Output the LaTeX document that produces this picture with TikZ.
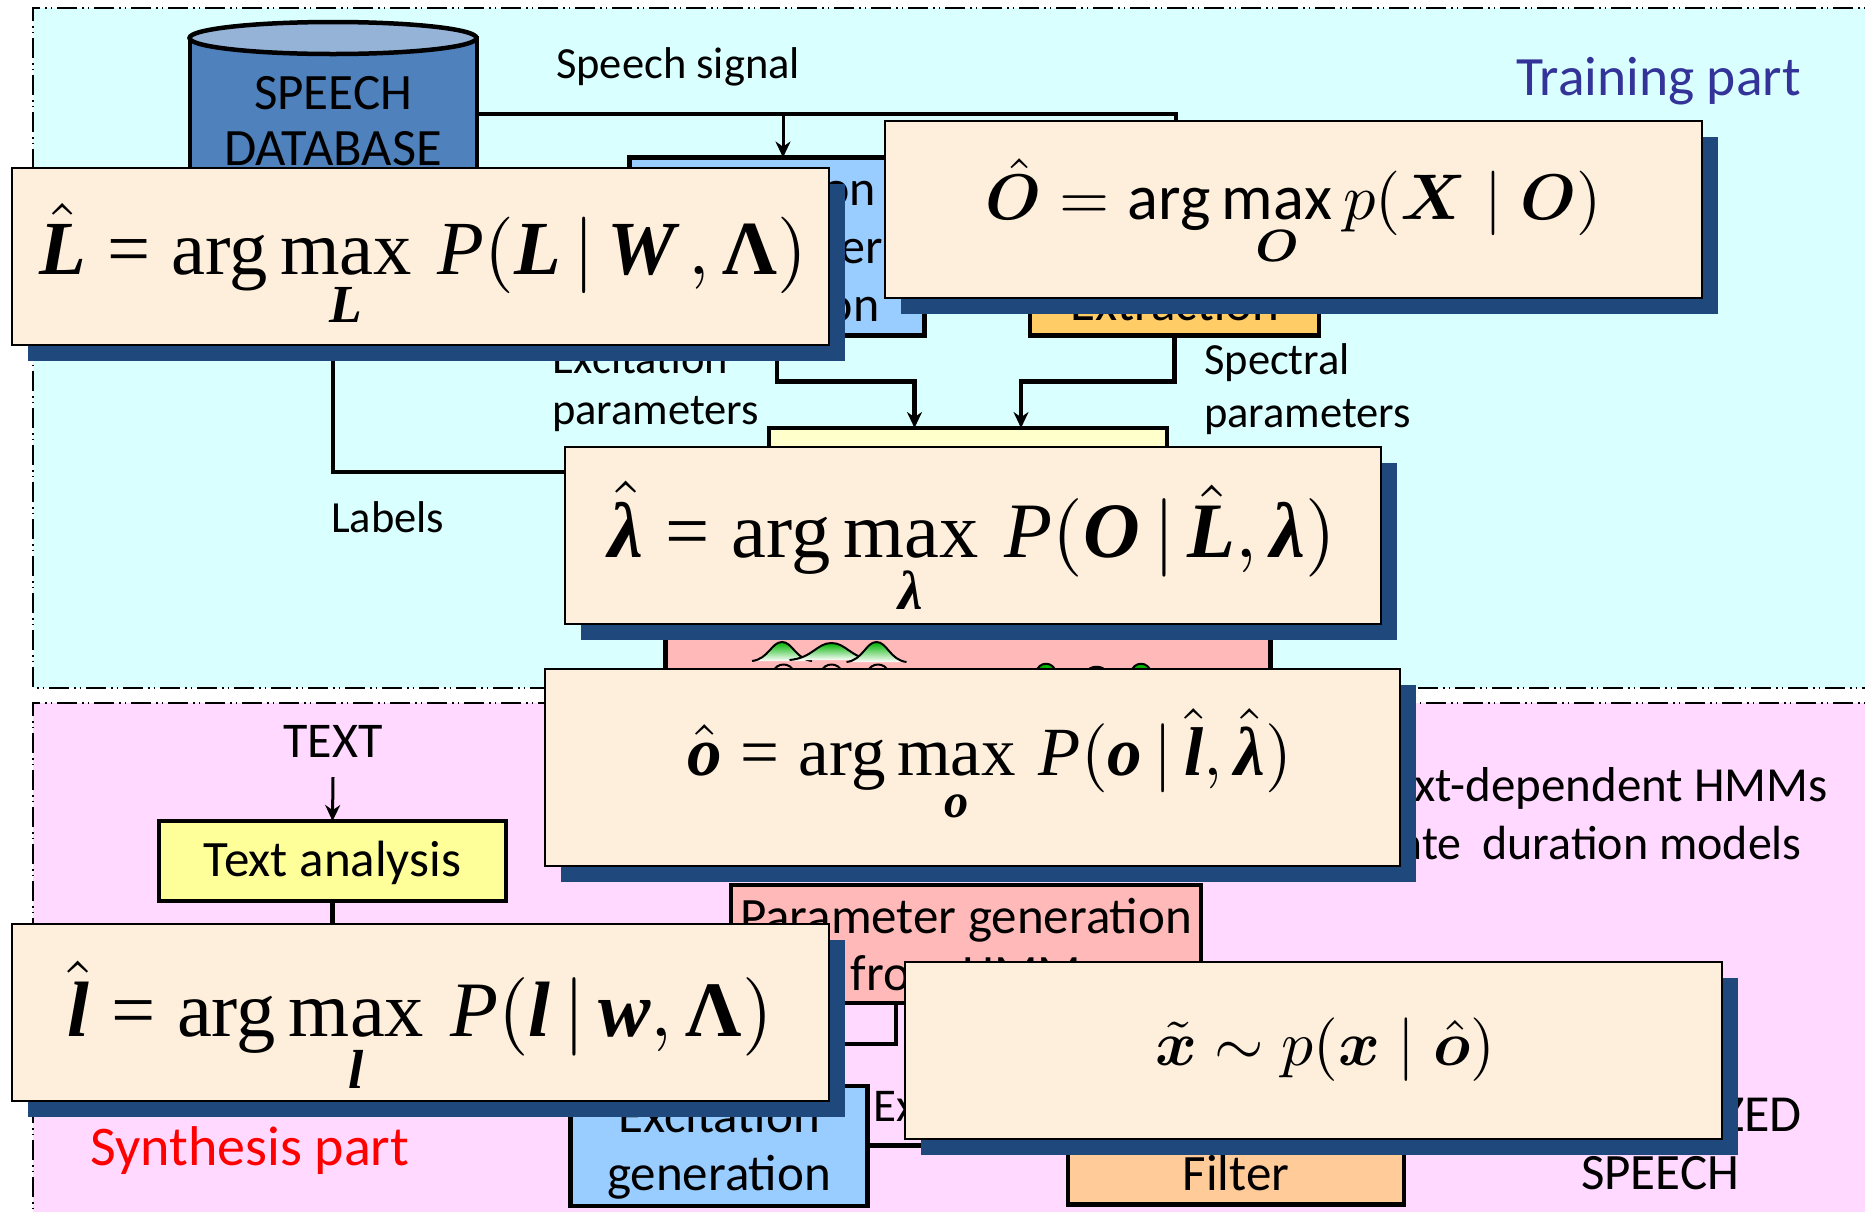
\documentclass[tikz,border=0pt]{standalone}
\usepackage{amsmath,bm}
\usepackage{fontspec}
\setmainfont{Carlito}
\newfontfamily\eqfont{Liberation Serif}
\usepackage{tikz}
\usetikzlibrary{positioning,arrows.meta,shapes.geometric,shadows}
\definecolor{trainbg}{HTML}{D9FFFF}
\definecolor{synthbg}{HTML}{FFD9FF}
\definecolor{dbbody}{HTML}{4F81BD}
\definecolor{dbend}{HTML}{95B3D7}
\definecolor{excblue}{HTML}{99CCFF}
\definecolor{specorange}{HTML}{FFCC66}
\definecolor{filterorange}{HTML}{FFCC99}
\definecolor{trainyellow}{HTML}{FFFFCC}
\definecolor{textyellow}{HTML}{FFFF99}
\definecolor{hmmpink}{HTML}{FFB9B9}
\definecolor{eqcream}{HTML}{FDEFDB}
\definecolor{eqnavy}{HTML}{1F497D}
\definecolor{trainlabel}{HTML}{333399}
\newcommand{\eqb}[1]{\text{\eqfont\bfseries\itshape #1}}
\newcommand{\eqi}[1]{\text{\eqfont\itshape #1}}
\newcommand{\eqr}[1]{\text{\eqfont #1}}
\newcommand{\eqB}[1]{\text{\eqfont\bfseries #1}}
\newcommand{\eqeq}{\mathrel{\eqr{=}}}
\newcommand{\eqmax}[1]{\eqr{arg}\mathop{\eqr{max}}\limits_{#1}}
\newcommand{\eqscale}[3]{\raisebox{-#2pt}[0pt][0pt]{\scalebox{#1}{$\displaystyle #3$}}}
\tikzset{
    region/.style={draw=black,line width=1.5pt,dash pattern=on 20pt off 5pt on 1.5pt off 4pt on 1.5pt off 5pt},
    procbox/.style={draw=black,line width=4.5pt,inner sep=0pt,outer sep=0pt,align=center,font=\fontsize{50}{58}\selectfont},
    lbl/.style={inner sep=0pt,align=left,font=\fontsize{44.5}{52}\selectfont},
    bigtext/.style={inner sep=0pt,align=center,font=\fontsize{51}{58}\selectfont},
    link/.style={draw=black,line width=4.2pt},
    arrowlink/.style={link,-{Stealth[length=16pt,width=15pt]}},
    thinarrow/.style={draw=black,line width=3pt,-{Stealth[length=16pt,width=15pt]}},
    eqbox/.style={draw=black,line width=2pt,fill=eqcream,inner sep=0pt,outer sep=0pt,
        general shadow={shadow xshift=16pt,shadow yshift=-16pt,fill=eqnavy,draw=none}},
    bump/.style={draw=black,line width=2pt,top color=green!70!black,bottom color=white}
}
\begin{document}
\begin{tikzpicture}[x=1pt,y=-1pt]
    \clip (0,0) rectangle (1865,1211);
    \fill[white] (0,0) rectangle (1865,1211);
    % two parts
    \path[region,fill=trainbg] (1890,8) -- (33,8) -- (33,688) -- (1890,688);
    \path[region,fill=synthbg] (1890,703) -- (33,703) -- (33,1240) -- (1890,1240);
    \node[font=\fontsize{55.5}{66}\selectfont,text=trainlabel,inner sep=0pt,anchor=base west] (trainlbl) at (1516,95) {Training part};
    \node[font=\fontsize{56}{66}\selectfont,text=red,inner sep=0pt,anchor=base west] (synthlbl) at (90,1165) {Synthesis part};

    % training part
    \coordinate (db) at (333,38);
    \coordinate (dbfoot) at (333,310);
    \draw[line width=4pt,fill=dbbody] (190,38) -- (190,310) -- (477,310) -- (477,38) -- cycle;
    \draw[line width=4.5pt,fill=dbend] (db) ellipse [x radius=143.5pt,y radius=16pt];
    \node[bigtext,anchor=base] (dbtop) at (333,109) {SPEECH};
    \node[bigtext,anchor=base,font=\fontsize{52.5}{58}\selectfont] (dbbottom) at (333,165) {DATABASE};
    \node[procbox,fill=excblue,minimum width=295pt,minimum height=178pt] (excext) at (777,246.5) {Excitation\\Parameter\\Extraction};
    \node[procbox,fill=specorange,minimum width=289pt,minimum height=178pt] (specext) at (1174.5,246.5) {};
    \node[bigtext,anchor=base] (spectxt) at (1175,320) {Extraction};
    \node[procbox,fill=trainyellow,minimum width=398pt,minimum height=88pt] (hmmtrain) at (968,472) {};
    \node[procbox,fill=hmmpink,minimum width=605pt,minimum height=200pt] (hmmset) at (968,640) {};
    \node[lbl,anchor=base west] (speechlbl) at (556,78) {Speech signal};
    \node[lbl,anchor=base west] (exclbl) at (552,373) {Excitation};
    \node[lbl,anchor=base west] (excparlbl) at (552,424) {parameters};
    \node[lbl,anchor=base west] (speclbl) at (1204,374) {Spectral};
    \node[lbl,anchor=base west] (specparlbl) at (1204,427) {parameters};
    \node[lbl,anchor=base west] (labelslbl) at (331,532) {Labels};
    \draw[link] (477,114) -- (1176,114) -- (specext.north -| 1176,0);
    \draw[thinarrow] (783,114) -- (excext.north -| 783,0);
    \draw[arrowlink] (excext.south) -- (777,381.5) -- (914.5,381.5) -- (hmmtrain.north -| 914.5,0);
    \draw[arrowlink] (specext.south) -- (1174.5,381.5) -- (1021,381.5) -- (hmmtrain.north -| 1021,0);
    \draw[link] (dbfoot) |- (hmmtrain.west);
    % mixtures in the HMM box
    \foreach \cx/\hw/\ptop/\pbase in {782/30/642/661,831.5/42/643/660,876.5/30/642/662}
        \path[bump] (\cx-\hw,\pbase) .. controls (\cx-0.45*\hw,\pbase-2) and (\cx-0.35*\hw,\ptop) .. (\cx,\ptop)
            .. controls (\cx+0.35*\hw,\ptop) and (\cx+0.45*\hw,\pbase-2) .. (\cx+\hw,\pbase);
    \foreach \cx/\ptop in {783.5/663,831.5/663,878/663}
        \draw[line width=2pt] (\cx-10,672) .. controls (\cx-8,\ptop-1) and (\cx+8,\ptop-1) .. (\cx+10,672);
    \foreach \cx/\ptop in {1046/662,1096.5/666,1141/662}
        \path[bump,top color=green!70!black,bottom color=green!70!black] (\cx-10,672) .. controls (\cx-7,\ptop-1) and (\cx+7,\ptop-1) .. (\cx+10,672);

    % synthesis part
    \node[bigtext,anchor=base,font=\fontsize{50}{58}\selectfont] (textin) at (333,757) {TEXT};
    \node[procbox,fill=textyellow,minimum width=347pt,minimum height=80pt] (textana) at (332.5,861) {};
    \node[bigtext,anchor=base] (textanatxt) at (332.5,876) {Text analysis};
    \draw[thinarrow] (textin.south) ++(0,20) -- (textana.north);
    \node[procbox,fill=hmmpink,minimum width=470pt,minimum height=118pt] (pargen) at (966,944) {};
    \node[bigtext,anchor=base] (pargentop) at (966,933) {Parameter generation};
    \node[bigtext,anchor=base] (pargenbot) at (966,990) {from HMM};
    \node[bigtext,anchor=base east,font=\fontsize{49}{58}\selectfont] (ctxlbl) at (1828,801) {Context-dependent HMMs};
    \node[bigtext,anchor=base east,font=\fontsize{48}{58}\selectfont] (durlbl) at (1802,859) {\& state\hspace{10pt} duration models};
    \node[procbox,fill=excblue,minimum width=297pt,minimum height=120pt] (excgen) at (719,1146) {};
    \node[bigtext,anchor=base] (excgentop) at (719,1132) {Excitation};
    \node[bigtext,anchor=base] (excgenbot) at (719,1190) {generation};
    \node[procbox,fill=filterorange,minimum width=336pt,minimum height=118pt] (filter) at (1236,1145.5) {};
    \node[bigtext,anchor=base] (filtertxt) at (1236,1190) {Filter};
    \node[lbl,anchor=base west,font=\fontsize{47}{58}\selectfont] (excinlbl) at (873,1121) {Excitation};
    \node[bigtext,anchor=base,font=\fontsize{52}{58}\selectfont] (synthtop) at (1660,1131) {SYNTHESIZED};
    \node[bigtext,anchor=base] (synthbot) at (1660,1189) {SPEECH};
    \draw[link] (textana.south) |- (896,1044) -- (pargen.south -| 896,0);
    \draw[link] (excgen.east |- 0,1145.5) -- (filter.west);

    % equations on top
    \node[eqbox,minimum width=817pt,minimum height=177pt] (eqL) at (420,256)
        {\hspace{6pt}\eqscale{7.65}{18}{\hat{\eqb{L}}\eqeq\eqmax{\eqb{L}}\,\eqi{P}(\eqb{L}\,|\,\eqb{W}\,,\eqB{Λ})}};
    \node[eqbox,minimum width=817pt,minimum height=177pt] (eqO) at (1293.5,209.5)
        {\eqscale{6.45}{10}{\hat{\bm{O}}=\arg\max_{\bm{O}}p(\bm{X}\mid\bm{O})}};
    \node[eqbox,minimum width=816pt,minimum height=177pt] (eqlam) at (972.5,535.5)
        {\eqscale{7.85}{21.5}{\hat{\eqb{λ}}\eqeq\eqmax{\eqb{λ}}\,\eqi{P}(\eqb{O}\,|\,\hat{\eqb{L}},\eqb{λ})}};
    \node[eqbox,minimum width=855pt,minimum height=197pt] (eqo) at (972.5,767.5)
        {\hspace{34pt}\eqscale{6.9}{7.5}{\hat{\eqb{o}}\eqeq\eqmax{\eqb{o}}\,\eqi{P}(\eqb{o}\,|\,\hat{\eqb{l}},\hat{\eqb{λ}})}};
    \node[eqbox,minimum width=817pt,minimum height=177pt] (eql) at (420,1012.5)
        {\eqscale{7.85}{24}{\hat{\eqb{l}}\eqeq\eqmax{\eqb{l}}\,\eqi{P}(\eqb{l}\,|\,\eqb{w},\eqB{Λ})}};
    \node[eqbox,minimum width=817pt,minimum height=177pt] (eqx) at (1313,1050.5)
        {\hspace{24pt}\eqscale{6.35}{15}{\tilde{\bm{x}}\sim p(\bm{x}\mid\hat{\bm{o}})}};
\end{tikzpicture}
\end{document}
